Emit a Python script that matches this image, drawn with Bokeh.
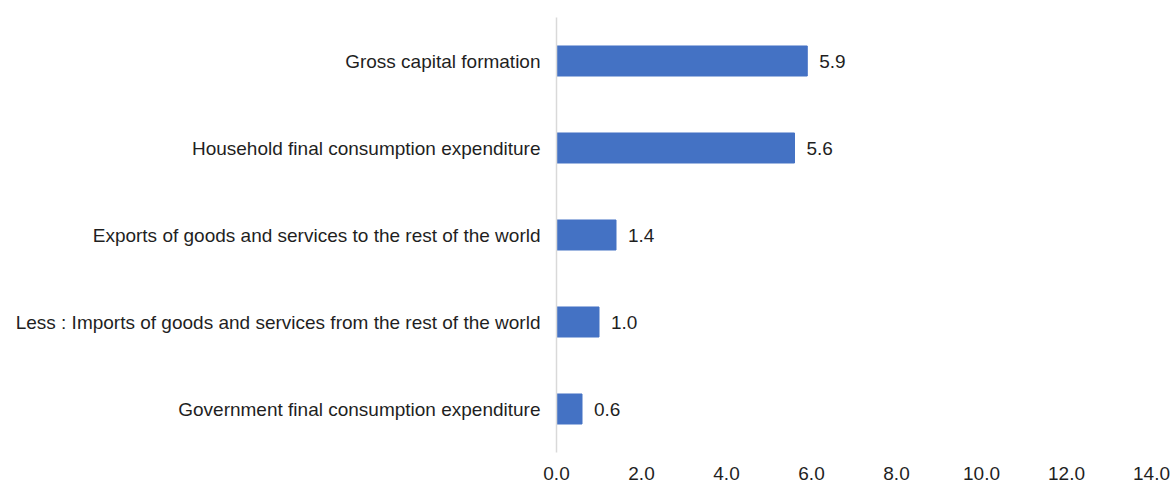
from bokeh.plotting import figure
from bokeh.models import FactorRange, Range1d, SingleIntervalTicker, NumeralTickFormatter, ColumnDataSource
from bokeh.core.properties import value
from bokeh.embed import file_html
from bokeh.resources import INLINE

categories = [
    "Gross capital formation",
    "Household final consumption expenditure",
    "Exports of goods and services to the rest of the world",
    "Less : Imports of goods and services from the rest of the world",
    "Government final consumption expenditure",
]
values = [5.9, 5.6, 1.4, 1.0, 0.6]
value_labels = ["5.9", "5.6", "1.4", "1.0", "0.6"]

FONT = "Liberation Sans"
TXT = "#1f1f1f"

src = ColumnDataSource(dict(cat=categories, val=values, lab=value_labels))

p = figure(
    width=1171, height=483,
    y_range=FactorRange(factors=categories[::-1]),
    x_range=Range1d(0, 14),
    output_backend="svg", toolbar_location=None,
    min_border_left=556, min_border_right=20,
    min_border_top=17, min_border_bottom=31,
)
p.outline_line_color = None
p.xgrid.grid_line_color = None
p.ygrid.grid_line_color = None
p.background_fill_color = "white"
p.border_fill_color = "white"

p.hbar(y="cat", right="val", left=0, height=0.345, color="#4472C4", source=src)
p.text(x="val", y="cat", text="lab", source=src, x_offset=12,
       text_baseline="middle", text_align="left",
       text_font=value(FONT), text_font_size="19px", text_color=TXT)

xa = p.xaxis[0]
xa.ticker = SingleIntervalTicker(interval=2)
xa.formatter = NumeralTickFormatter(format="0.0")
xa.axis_line_color = None
xa.major_tick_line_color = None
xa.minor_tick_line_color = None
xa.major_label_standoff = 8
xa.major_label_text_font = FONT
xa.major_label_text_font_size = "19px"
xa.major_label_text_color = TXT

ya = p.yaxis[0]
ya.axis_line_color = "#D9D9D9"
ya.axis_line_width = 1.5
ya.major_tick_line_color = None
ya.minor_tick_line_color = None
ya.major_label_standoff = 10
ya.major_label_text_font = FONT
ya.major_label_text_font_size = "19px"
ya.major_label_text_color = TXT

open("out.html", "w").write(file_html(p, INLINE))
